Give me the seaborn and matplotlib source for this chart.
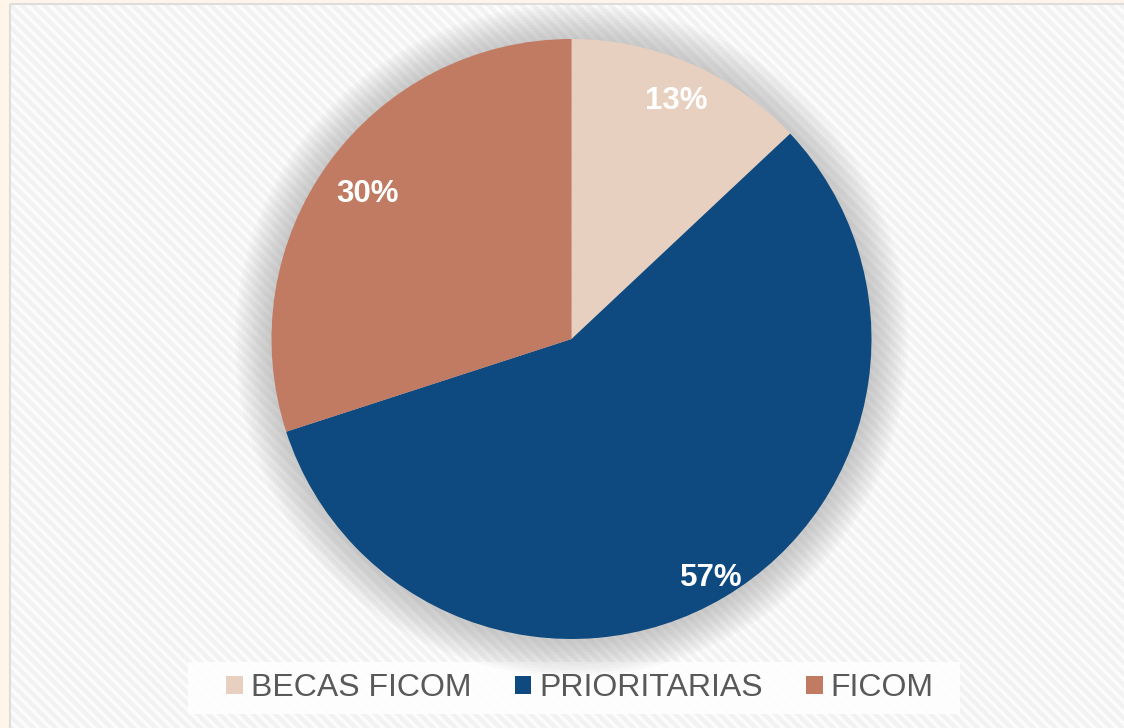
import matplotlib
matplotlib.use('Agg')
import matplotlib.pyplot as plt
from matplotlib.patches import Rectangle, Circle, Patch
import seaborn as sns

labels = ['BECAS FICOM', 'PRIORITARIAS', 'FICOM']
values = [13, 57, 30]
colors = ['#E8D0C0', '#0E4A7F', '#C07B62']
label_dist = [0.877, 0.915, 0.84]

sns.set_style('white')
plt.rcParams['font.family'] = ['Liberation Sans', 'DejaVu Sans']
plt.rcParams['hatch.linewidth'] = 2.5

W, H = 1124, 728
fig = plt.figure(figsize=(W / 100, H / 100), dpi=100)
fig.patch.set_facecolor('#FFF5E8')

# fondo con textura (coordenadas en pixeles)
bg = fig.add_axes([0, 0, 1, 1])
bg.set_xlim(0, W)
bg.set_ylim(H, 0)
bg.axis('off')
bg.add_patch(Rectangle((10, 4), W, H, facecolor='#F2F2F2', edgecolor='#FCFCFC',
                       hatch='\\\\\\', linewidth=0))
bg.add_patch(Rectangle((10, 4), W, H, facecolor='none', edgecolor='#DDDDDD', linewidth=1.5))
bg.add_patch(Rectangle((188, 662), 772, 52, facecolor='white', alpha=0.85, edgecolor='none'))

# pastel
ax = fig.add_axes([211.5 / W, 29 / H, 720 / W, 720 / H])
ax.set_aspect('equal')
ax.axis('off')
ax.patch.set_alpha(0)

for k in range(1, 13):
    ax.add_patch(Circle((0, -0.005), 1.0 + k * 0.01, color='#8A8A8A', alpha=0.04, linewidth=0))

wedges, texts, autotexts = ax.pie(values, colors=colors, startangle=90, counterclock=False,
                                  autopct='%1.0f%%', pctdistance=1.0, radius=1,
                                  wedgeprops=dict(linewidth=0))
for t, d in zip(autotexts, label_dist):
    x, y = t.get_position()
    t.set_position((x * d, y * d - 0.01))
    t.set_color('white')
    t.set_fontsize(22.5)
    t.set_fontweight('bold')
ax.set_xlim(-1.2, 1.2)
ax.set_ylim(-1.2, 1.2)

handles = [Patch(facecolor=c, edgecolor='none') for c in colors]
fig.legend(handles, labels, loc='center', bbox_to_anchor=(580 / W, 39.5 / H), ncol=3,
           frameon=False, fontsize=23, labelcolor='#595959', handlelength=0.52,
           handleheight=0.52, handletextpad=0.25, columnspacing=1.35)

fig.savefig('out.png', dpi=100, facecolor=fig.get_facecolor())
